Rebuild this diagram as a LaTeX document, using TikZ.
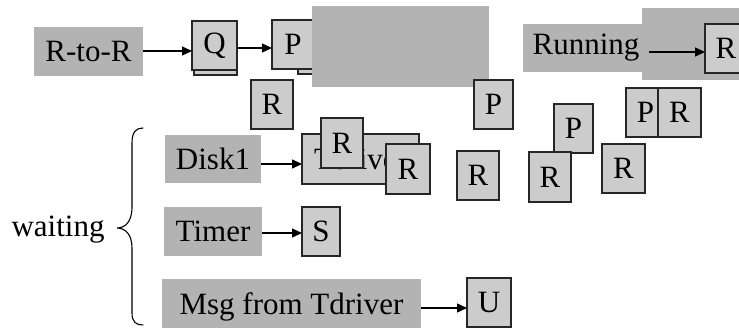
\documentclass[tikz,border=0pt]{standalone}
\usepackage{fontspec}
\setmainfont{Liberation Serif}
\usetikzlibrary{arrows.meta}
\definecolor{lbl}{HTML}{B3B3B3}
\definecolor{cell}{HTML}{CCCCCC}
\definecolor{edge}{HTML}{262626}
\tikzset{
  every node/.style={font=\fontsize{31}{37}\selectfont, inner sep=0pt, outer sep=0pt},
  lblbox/.style={fill=lbl, draw=none},
  cellbox/.style={fill=cell, draw=edge, line width=1.2pt},
  arr/.style={line width=1.3pt, -{Triangle[length=10pt,width=9pt]}},
  bracepath/.style={line width=1.1pt, line cap=round}
}
\begin{document}
\begin{tikzpicture}[x=1pt,y=-1pt]
\useasboundingbox (0,0) rectangle (739,327);
\clip (0,0) rectangle (739,327);
% top row
\node[lblbox, minimum width=109pt, minimum height=49pt] (rtor) at (88.5,51.5) {R-to-R};
\node[cellbox, minimum width=43pt, minimum height=49pt] (qsh) at (215.5,50.5) {};
\node[cellbox, minimum width=45pt, minimum height=49pt] (q) at (214.5,45.5) {Q};
\draw[arr] (rtor.east |- 0,51) -- (q.west |- 0,51);
\node[cellbox, minimum width=42pt, minimum height=49pt] (psh) at (319,49.5) {};
\node[cellbox, minimum width=42pt, minimum height=49pt] (p1) at (293,44.5) {P};
\draw[arr] (q.east |- 0,48) -- (p1.west |- 0,48);
\node[lblbox, minimum width=177pt, minimum height=81pt] (big1) at (400.5,46.5) {};
\node[cellbox, minimum width=42pt, minimum height=49pt] (r1) at (272,104.5) {R};
\node[cellbox, minimum width=39pt, minimum height=49pt] (p2) at (493.5,104.5) {P};
\node[lblbox, minimum width=126pt, minimum height=48pt] (run) at (586,48) {Running};
\node[lblbox, minimum width=118pt, minimum height=72pt] (big2) at (701,44) {};
\node[cellbox, minimum width=42pt, minimum height=49pt] (r2) at (726,48.5) {R};
\draw[arr] (run.east |- 0,52) -- (r2.west |- 0,52);
\node[cellbox, minimum width=39pt, minimum height=49pt] (p3) at (645.5,112.5) {P};
\node[cellbox, minimum width=43pt, minimum height=49pt] (r3) at (679.5,112.5) {R};
\node[cellbox, minimum width=39pt, minimum height=49pt] (p4) at (573.5,128.5) {P};
% Disk1 row
\node[lblbox, minimum width=96pt, minimum height=48pt] (disk) at (213,159) {Disk1};
\node[cellbox, minimum width=117pt, minimum height=50pt] (tdrv) at (360.5,159) {Tdriver};
\draw[arr] (disk.east |- 0,164) -- (tdrv.west |- 0,164);
\node[cellbox, minimum width=42pt, minimum height=50pt] (r4) at (342,143) {R};
\node[cellbox, minimum width=44pt, minimum height=50pt] (r5) at (408,169) {R};
\node[cellbox, minimum width=42pt, minimum height=49pt] (r6) at (478,175.5) {R};
\node[cellbox, minimum width=42pt, minimum height=50pt] (r7) at (550,177) {R};
\node[cellbox, minimum width=43pt, minimum height=49pt] (r8) at (623.5,168.5) {R};
% Timer row
\node[lblbox, minimum width=98pt, minimum height=49pt] (timer) at (213,231.5) {Timer};
\node[cellbox, minimum width=38pt, minimum height=49pt] (s) at (321,231.5) {S};
\draw[arr] (timer.east |- 0,233) -- (s.west |- 0,233);
% Msg row
\node[lblbox, minimum width=259pt, minimum height=56pt] (msg) at (291.5,307) {Msg from Tdriver};
\node[cellbox, minimum width=44pt, minimum height=49pt] (u) at (489,302.5) {U};
\draw[arr] (msg.east |- 0,308) -- (u.west |- 0,308);
% brace and label
\node (waiting) at (58,230) {waiting};
\draw[bracepath] (143,128) .. controls (136,128) and (132,132) .. (132,143) -- (132,207) .. controls (132,222) and (125,228) .. (117,228) .. controls (125,228) and (132,234) .. (132,248) -- (132,313) .. controls (132,322) and (136,325) .. (143,325);
\end{tikzpicture}
\end{document}
